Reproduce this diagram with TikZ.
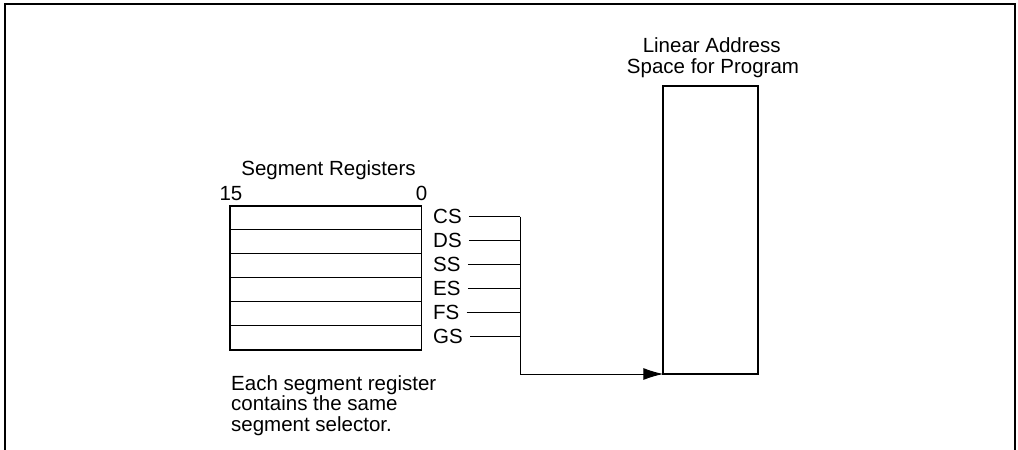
\documentclass[tikz,border=0pt]{standalone}
\usepackage{fontspec}
\setmainfont{Liberation Sans}
\usetikzlibrary{arrows.meta}
\begin{document}
\begin{tikzpicture}[x=1pt,y=-1pt,
  txt/.style={font=\fontsize{20.5}{20.6}\selectfont, inner sep=0pt},
  reglabel/.style={txt, anchor=west, text height=14.3pt, text depth=0pt},
  conn/.style={line width=1pt},
  frameline/.style={line width=2pt}]
\useasboundingbox (0,0) rectangle (1018,450);
% frame
\draw[frameline] (5,450) -- (5,4.3) -- (1014.7,4.3) -- (1014.7,450);
% register box
\node[draw, line width=1.5pt, minimum width=191.7pt, minimum height=144pt, inner sep=0pt] (regbox) at (325.85,278) {};
\foreach \i in {1,...,5}
  \draw[line width=1pt] ([yshift=-24*\i pt]regbox.north west) -- ([yshift=-24*\i pt]regbox.north east);
\node[txt, anchor=base] (title) at (328.5,175.7) {Segment Registers};
\node[txt, anchor=base] (b15) at (231,200) {15};
\node[txt, anchor=base] (b0) at (421.5,200) {0};
% register labels
\node[reglabel] (cs) at (433,216.5) {CS};
\node[reglabel] (ds) at (433,240.5) {DS};
\node[reglabel] (ss) at (433,264.5) {SS};
\node[reglabel] (es) at (433,288.5) {ES};
\node[reglabel] (fs) at (433,312.5) {FS};
\node[reglabel] (gs) at (433,336.5) {GS};
\coordinate (bus) at (520,216.5);
\coordinate (busend) at (520,374);
\foreach \n in {cs,ds,ss,es,fs,gs}
  \draw[conn] ([xshift=7pt]\n.east) -- (\n.east -| bus);
% linear address space
\node[draw, line width=2pt, minimum width=95pt, minimum height=288pt, inner sep=0pt, outer sep=0pt] (lin) at (710.8,230) {};
\node[txt, anchor=base] (lt1) at (711.7,52.7) {Linear Address};
\node[txt, anchor=base] (lt2) at (713,73.3) {Space for Program};
\draw[conn, -{Latex[length=20pt,width=12pt]}] (bus) -- (busend) -- (busend -| lin.west);
% note
\node[txt, anchor=north west, align=left] (note) at (231,375.3) {Each segment register\\contains the same\\segment selector.};
\end{tikzpicture}
\end{document}
